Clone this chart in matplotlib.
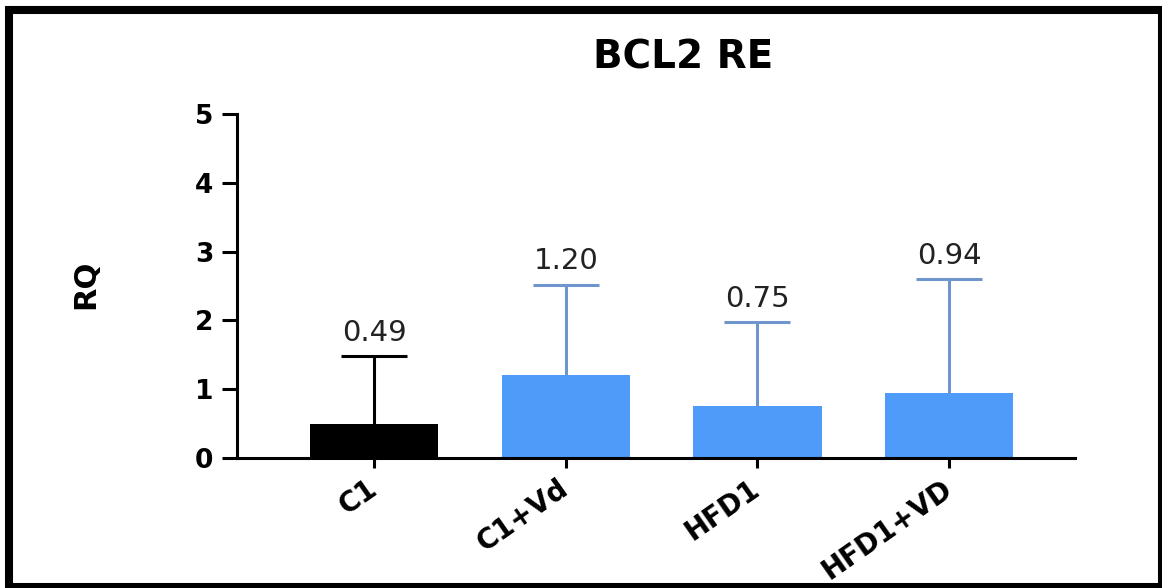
import matplotlib
matplotlib.use("Agg")
import matplotlib.pyplot as plt
from matplotlib.patches import Rectangle

# Relative expression of BCL2 per group
groups = ["C1", "C1+Vd", "HFD1", "HFD1+VD"]
means = [0.49, 1.20, 0.75, 0.94]
sd_upper = [0.99, 1.32, 1.22, 1.66]
value_labels = ["0.49", "1.20", "0.75", "0.94"]
y_ticks = [0, 1, 2, 3, 4, 5]

bar_colors = ["#000000", "#4F9BFA", "#4F9BFA", "#4F9BFA"]
err_colors = ["#000000", "#6F96CC", "#6F96CC", "#6F96CC"]

plt.rcParams["font.family"] = ["DejaVu Sans"]

W, H = 1162, 588
fig = plt.figure(figsize=(W / 100, H / 100), dpi=100)
fig.patch.set_facecolor("white")

ax = fig.add_axes([237 / W, 1 - 458 / H, (1075 - 237) / W, (458 - 114) / H])

x = list(range(len(groups)))
ax.bar(x, means, width=0.67, color=bar_colors, zorder=2)

for xi, m, e, c, lab in zip(x, means, sd_upper, err_colors, value_labels):
    # one-sided (upper) SD bar: keep only the upper cap
    eb = ax.errorbar([xi], [m], yerr=[[0], [e]], fmt="none", ecolor=c,
                     elinewidth=2.2, capsize=24, capthick=2.2, zorder=3)
    for cap in eb[1]:
        if abs(cap.get_ydata()[0] - m) < 1e-9:
            cap.set_visible(False)
    ax.annotate(lab, xy=(xi, m + e), xytext=(0, 11), textcoords="offset points",
                ha="center", va="baseline", fontsize=21, color="#222222")

ax.set_xlim(-0.715, 3.657)
ax.set_ylim(0, 5)
ax.set_yticks(y_ticks)
ax.set_yticklabels([str(t) for t in y_ticks], fontsize=19, fontweight="bold")
ax.set_xticks(x)
ax.set_xticklabels(groups, fontsize=20, fontweight="bold", rotation=35,
                   ha="right", va="center", rotation_mode="anchor")

for side in ("top", "right"):
    ax.spines[side].set_visible(False)
for side in ("left", "bottom"):
    ax.spines[side].set_linewidth(2.2)
    ax.spines[side].set_color("black")
ax.spines["left"].set_zorder(4)

ax.tick_params(axis="y", length=11, width=2.2, pad=6, colors="black")
ax.tick_params(axis="x", length=7, width=2.2, pad=13, colors="black")

ax.set_ylabel("RQ", fontsize=22, fontweight="bold", va="center", ha="center",
              rotation=90, rotation_mode="anchor")
ax.yaxis.set_label_coords(-0.181, 0.506)

ax.set_title("BCL2 RE", fontsize=28, fontweight="bold", x=0.532, y=1.131,
             va="baseline", pad=0)

# Thick black frame around the whole figure
frame = Rectangle((9 / W, 1 - 587 / H), (1162 - 9) / W, (587 - 10) / H,
                  transform=fig.transFigure, fill=False, edgecolor="black",
                  linewidth=5.8, clip_on=False)
fig.add_artist(frame)

fig.savefig("out.png", dpi=100, facecolor="white")
